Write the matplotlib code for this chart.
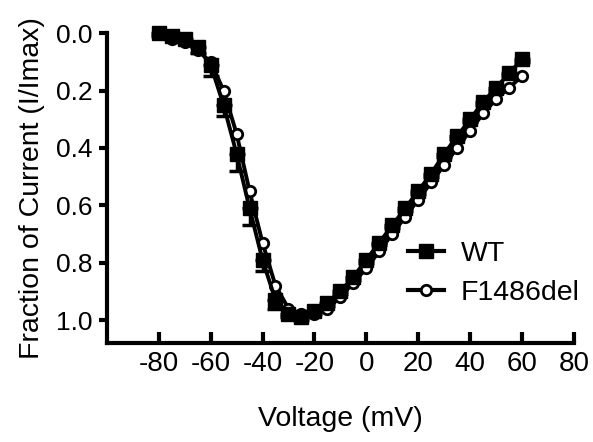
import matplotlib
matplotlib.use('Agg')
import matplotlib.pyplot as plt
from matplotlib.lines import Line2D
import numpy as np

plt.rcParams['font.family'] = ['Liberation Sans', 'DejaVu Sans']

voltage = [-80, -75, -70, -65, -60, -55, -50, -45, -40, -35, -30, -25, -20, -15,
           -10, -5, 0, 5, 10, 15, 20, 25, 30, 35, 40, 45, 50, 55, 60]
wt = [0.00, 0.01, 0.02, 0.05, 0.11, 0.25, 0.42, 0.61, 0.79, 0.93, 0.98, 0.99, 0.97, 0.94,
      0.90, 0.85, 0.79, 0.73, 0.67, 0.61, 0.55, 0.49, 0.42, 0.36, 0.30, 0.24, 0.19, 0.14, 0.09]
wt_err = [0.01, 0.01, 0.01, 0.02, 0.04, 0.04, 0.06, 0.06, 0.04, 0.03, 0.01, 0.01, 0.01, 0.01,
          0.01, 0.01, 0.01, 0.01, 0.01, 0.01, 0.01, 0.01, 0.01, 0.01, 0.01, 0.01, 0.01, 0.01, 0.01]
f1486 = [0.00, 0.02, 0.03, 0.06, 0.10, 0.20, 0.35, 0.55, 0.73, 0.88, 0.96, 0.98, 0.98, 0.96,
         0.92, 0.87, 0.82, 0.76, 0.70, 0.64, 0.58, 0.52, 0.46, 0.40, 0.34, 0.28, 0.23, 0.19, 0.15]

xticks = [-80, -60, -40, -20, 0, 20, 40, 60, 80]
yticks = [0.0, 0.2, 0.4, 0.6, 0.8, 1.0]

fig = plt.figure(figsize=(5.93, 4.42), dpi=100)
ax = fig.add_axes([0.180, 0.224, 0.788, 0.701])

ax.plot(voltage, f1486, color='black', lw=2.8, marker='o', ms=7.5, mfc='white',
        mec='black', mew=2, clip_on=False, zorder=3)
ax.errorbar(voltage, wt, yerr=[np.zeros(len(wt_err)), wt_err], color='black', lw=2.8,
            marker='s', ms=10, capsize=6, elinewidth=2.5, capthick=2.5,
            clip_on=False, zorder=4)

ax.set_xlim(-100, 80)
ax.set_ylim(1.08, 0.0)
ax.set_xticks(xticks)
ax.set_xticklabels([str(v) for v in xticks])
ax.set_yticks(yticks)
ax.set_yticklabels(['%.1f' % v for v in yticks])

for s in ['top', 'right']:
    ax.spines[s].set_visible(False)
for s in ['left', 'bottom']:
    ax.spines[s].set_linewidth(3)

ax.tick_params(axis='x', direction='in', length=8, width=3, labelsize=20, pad=6)
ax.tick_params(axis='y', direction='out', length=6, width=3, labelsize=19, pad=4)

ax.set_xlabel('Voltage (mV)', fontsize=20.5, labelpad=21)
ax.set_ylabel('Fraction of Current (I/Imax)', fontsize=20.5, labelpad=8)

handles = [
    Line2D([], [], color='black', lw=3, marker='s', ms=10),
    Line2D([], [], color='black', lw=3, marker='o', ms=7.5, mfc='white', mew=2),
]
fig.legend(handles, ['WT', 'F1486del'], frameon=False, fontsize=20.5,
           handlelength=1.25, handletextpad=0.6, labelspacing=0.45, borderpad=0,
           borderaxespad=0, loc='center left',
           bbox_to_anchor=(408 / 593, 1 - 273.5 / 442))

fig.savefig('out.png', dpi=100)
